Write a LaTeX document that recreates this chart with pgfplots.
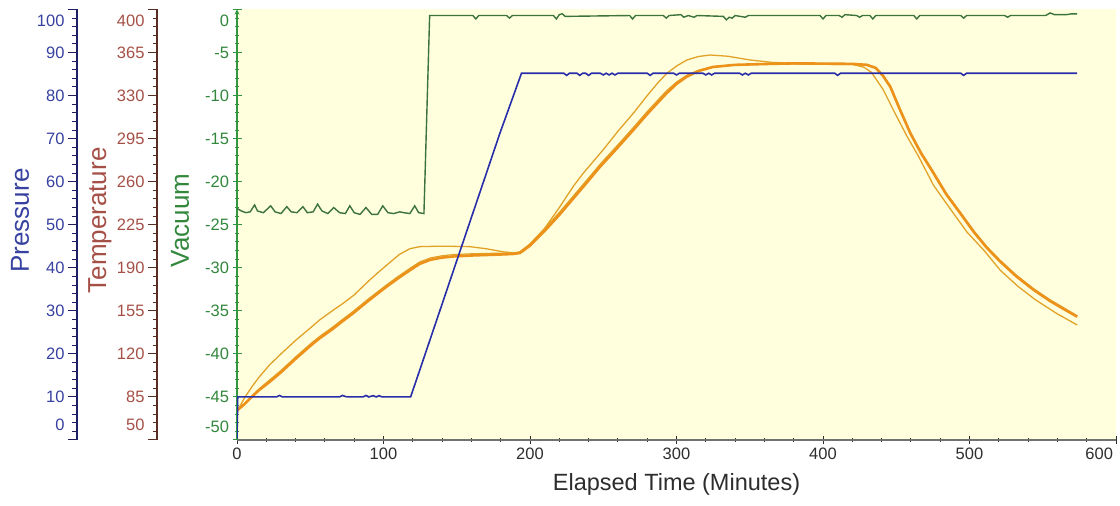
\documentclass[border=0pt]{standalone}
\usepackage{fontspec}
\setmainfont{Liberation Sans}
\usepackage{pgfplots}
\pgfplotsset{compat=1.18}

\definecolor{bgy}{RGB}{255,255,222}
\definecolor{presline}{RGB}{40,45,170}
\definecolor{prestext}{RGB}{55,65,160}
\definecolor{presaxis}{RGB}{30,30,100}
\definecolor{temptext}{RGB}{165,80,70}
\definecolor{tempaxis}{RGB}{90,45,35}
\definecolor{vactext}{RGB}{50,135,60}
\definecolor{vacaxis}{RGB}{50,150,65}
\definecolor{vacline}{RGB}{60,115,60}
\definecolor{orthick}{RGB}{236,145,25}
\definecolor{orthin}{RGB}{226,162,40}
\definecolor{xaxisc}{RGB}{110,115,110}
\definecolor{ticktext}{RGB}{45,45,45}

\newcommand{\tickfont}{\fontsize{16.5bp}{18bp}\selectfont}
\newcommand{\titlefont}{\fontsize{26bp}{28bp}\selectfont}

\pgfplotsset{
  full/.style={scale only axis, width=879bp, height=430.5bp,
    xmin=0, xmax=600, at={(237bp,66bp)}, anchor=south west},
  yax/.style={tick align=outside, major tick length=9bp, minor tick length=4.5bp,
    minor y tick num=4,
    axis line style={-, draw=#1, line width=1.2bp},
    every tick/.style={draw=#1, line width=1bp},
    yticklabel style={font=\tickfont, anchor=east},
    ylabel style={at={(axis description cs:0,0.51)}, anchor=center, yshift=57bp, font=\titlefont}},
  dummy/.style={scale only axis, width=1bp, height=430.5bp, xmin=0, xmax=1,
    anchor=south west, axis x line=none, axis y line=left},
}

\begin{document}
\begin{tikzpicture}
\useasboundingbox (0,0) rectangle (1120bp,506bp);

% main axis: vacuum
\begin{axis}[full, yax=vacaxis,
  axis background/.style={fill=bgy},
  axis x line=bottom, axis y line=left,
  ymin=-50, ymax=0,
  ytick={-50,-45,...,0},
  yticklabels={\raisebox{13bp}[\height][\depth]{-50},-45,-40,-35,-30,-25,-20,-15,-10,-5,\raisebox{-11bp}[\height][\depth]{0}},
  yticklabel style={text=vactext},
  ylabel={Vacuum}, ylabel style={text=vactext},
  xtick={0,100,200,300,400,500,600}, minor x tick num=4,
  xticklabels={0,100,200,300,400,500,\makebox[0pt][r]{600\hspace{3bp}}},
  x axis line style={-, draw=xaxisc, line width=1.2bp},
  xticklabel style={font=\tickfont, text=ticktext},
  x tick style={draw=ticktext, line width=1bp},
  xlabel={Elapsed Time (Minutes)},
  xlabel style={font=\fontsize{23.5bp}{25bp}\selectfont, text=ticktext, at={(axis description cs:0.5,0)}, anchor=north, inner sep=0pt, yshift=-33bp},
]
\addplot[vacline, line width=1.4bp] coordinates {
(0,-23.1) (3,-23.4) (6,-23.6) (9,-23.5) (12,-22.7) (14,-23.4) (18,-23.6) (23,-22.8) (26,-23.5) (30,-23.7)
(34,-22.9) (37,-23.5) (41,-23.6) (45,-22.9) (48,-23.6) (52,-23.5) (55,-22.6) (58,-23.4) (62,-23.7) (66,-23.0)
(70,-23.6) (74,-23.7) (77,-22.8) (80,-23.6) (84,-23.8) (88,-23.0) (92,-23.8) (96,-23.8) (99.5,-22.8) (103,-23.6)
(107,-23.7) (111,-23.5) (114,-23.6) (118,-23.7) (121.3,-22.8) (124,-23.6) (127.6,-23.7) (131.5,-0.7)
(150,-0.7) (161,-0.7) (163,-1.1) (165,-0.7) (184,-0.7) (186,-1.0) (188,-0.7) (216,-0.7) (218,-1.1) (220,-0.6) (222,-0.5) (224,-0.8)
(268,-0.7) (270,-1.1) (272,-0.7) (291,-0.7) (293,-1.0) (295,-0.7) (303,-0.6) (305,-0.9) (308,-0.7) (312,-0.9) (314,-0.7)
(332,-0.8) (334,-1.2) (336,-0.9) (338,-1.0) (340,-0.7) (347,-0.9) (349,-0.7) (398,-0.7) (400,-1.1) (402,-0.7)
(411,-0.7) (413,-0.9) (415,-0.6) (423,-0.7) (425,-0.9) (427,-0.7) (432,-0.7) (434,-1.1) (436,-0.7)
(462,-0.7) (464,-1.1) (466,-0.7) (494,-0.7) (496,-1.0) (498,-0.7) (524,-0.7) (526,-0.9) (528,-0.7)
(552,-0.7) (555,-0.4) (558,-0.6) (566,-0.6) (570,-0.5) (573.5,-0.5)
};
\end{axis}

% temperature data
\begin{axis}[full, hide axis, ymin=50, ymax=400]
\addplot[orthin, line width=1.3bp] coordinates {
(0,73) (5,84) (10,93) (15,101) (22.2,111) (30,120) (40,131) (50,141) (56.4,147.6) (65,155) (72.3,161) (80,168)
(90.5,180) (100,190) (111,201) (118,205.5) (124.7,207.2) (140,207.6) (158.9,207.2) (170,205.5) (181.6,203) (190,202)
(195,203) (200,209) (210,222) (220,239) (230,257) (236.3,266.8) (250,286) (260,301) (270.5,315.6) (280,330) (287,340)
(293.3,348) (300,354) (307,358.9) (315,361.8) (323,363) (335,362) (350,359) (365,357) (384,356) (400,356) (420,355.5)
(428,353) (433,349) (441,335) (449,316) (457.3,297) (465,281) (475.5,257) (488,236) (498.3,219) (510,204) (521,188)
(533,175) (545,164) (560,152.5) (573.5,143.5)
};
\addplot[orthin, line width=1.2bp] coordinates {
(0,74) (5,79.5) (10,85.5) (15,91.5) (22,98.5) (30,106.5) (40,117.5) (50,128) (56.4,134.2) (65,141.5) (72,148)
(79.2,154.5) (90,165) (102,176) (110,183) (118,189.5) (124.7,194.7) (132,198) (140,199.8) (147.5,200.7) (160,201.4)
(175,201.8) (188,202) (193,203) (200,209.5) (210,222) (220,235) (230,249) (240,263) (247.7,274) (260,290) (270.5,304)
(280,317) (287,326) (293.3,334) (300,341) (307,346.5) (315,350.5) (325,353.5) (340,355) (361.6,355.5) (380,355.6)
(400,355.4) (420,355.2) (430,354.6) (436,352.5) (441,346.5) (446,338) (452,321) (459.6,300.4) (467,284) (475.5,267.8)
(484,251) (493.7,235.3) (503,220) (512,207) (521,196) (532,184) (543.8,173) (555,164) (565,157) (573.5,151)
};
\addplot[orthick, line width=2.6bp] coordinates {
(0,74) (5,79) (10,85) (15,90.5) (22,97) (30,105) (40,116) (50,126.5) (56.4,132.7) (65,140) (72,146.5) (79.2,153)
(90,163.5) (102,174.6) (110,181.5) (118,188) (124.7,193.2) (132,196.5) (140,198.3) (147.5,199.2) (160,200) (175,200.6)
(188,201.2) (193,202) (200,208) (210,220) (220,233) (230,247) (240,261) (247.7,272) (260,288) (270.5,302) (280,315)
(287,324) (293.3,332) (300,339.5) (307,345.4) (315,350) (325,353.3) (340,355) (361.6,355.7) (380,356.2) (400,356)
(420,355.8) (430,355) (436,352.5) (441,346) (446,337) (452,320) (459.6,299.4) (467,283) (475.5,266.8) (484,250)
(493.7,234.3) (503,219) (512,206) (521,195) (532,183) (543.8,172) (555,163) (565,156) (573.5,150.2)
};
\end{axis}

% pressure data
\begin{axis}[full, hide axis, ymin=0, ymax=100]
\addplot[presline, line width=1.6bp] coordinates {
(0,0.3) (0.5,10) (27,10) (29,10.35) (31,10) (70,10) (72,10.35) (74,10.1) (76,10) (86,10) (88,10.35) (90,10)
(93,10.3) (95,10) (97,10.3) (99,10) (118.5,10) (124.7,16.2) (179.4,71.2) (194.2,85.2) (223,85.2) (225,84.7) (227,85.2)
(232,85.2) (234,84.7) (236,85.2) (238,85.2) (240,84.7) (242,85.2) (248,85.2) (250,84.8) (252,85.2) (254,84.8) (256,85.2)
(258,84.8) (260,85.2) (280,85.2) (282,84.7) (284,85.2) (298,85.2) (300,84.8) (302,85.2) (318,85.2) (320,84.8)
(322,85.2) (324,84.8) (326,85.2) (343,85.2) (345,84.8) (347,85.2) (349,84.8) (351,85.2) (408,85.2) (410,84.7)
(412,85.2) (494,85.2) (496,84.7) (498,85.2) (573.5,85.2)
};
\end{axis}

% temperature axis
\begin{axis}[dummy, at={(157bp,66bp)}, yax=tempaxis,
  ymin=50, ymax=400, ytick={50,85,...,400},
  yticklabels={\raisebox{15bp}[\height][\depth]{50},85,120,155,190,225,260,295,330,365,\raisebox{-11bp}[\height][\depth]{400}},
  yticklabel style={text=temptext},
  ylabel={Temperature}, ylabel style={text=temptext}]
\addplot[draw=none] coordinates {(0,100)};
\end{axis}

% pressure axis
\begin{axis}[dummy, at={(77bp,66bp)}, yax=presaxis,
  ymin=0, ymax=100, ytick={0,10,...,100},
  yticklabels={\raisebox{15bp}[\height][\depth]{0},10,20,30,40,50,60,70,80,90,\raisebox{-11bp}[\height][\depth]{100}},
  yticklabel style={text=prestext},
  ylabel={Pressure}, ylabel style={text=prestext}]
\addplot[draw=none] coordinates {(0,50)};
\end{axis}
\end{tikzpicture}
\end{document}
